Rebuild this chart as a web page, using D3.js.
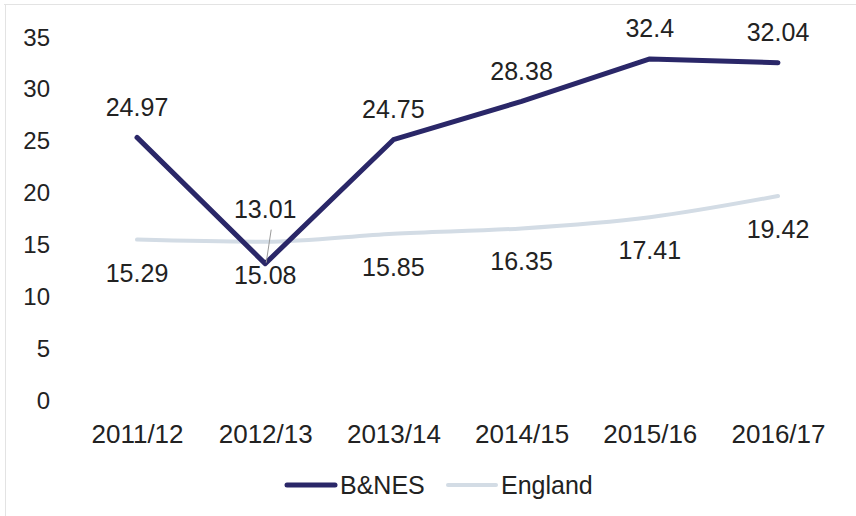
<!DOCTYPE html>
<html><head><meta charset="utf-8">
<script src="https://cdn.jsdelivr.net/npm/d3@7"></script>
<style>
html,body{margin:0;padding:0;background:#fff;}
svg{display:block;font-family:"Liberation Sans",Arial,Helvetica,sans-serif;}
</style></head>
<body>
<svg id="chart" width="856" height="516"></svg>
<script>
const categories = ["2011/12","2012/13","2013/14","2014/15","2015/16","2016/17"];
const bnes = [24.97, 13.01, 24.75, 28.38, 32.4, 32.04];
const england = [15.29, 15.08, 15.85, 16.35, 17.41, 19.42];
const yTicks = [0,5,10,15,20,25,30,35];
const seriesNames = ["B&NES","England"];

const svg = d3.select("#chart");
const bnesColor = "#2a2768", engColor = "#d3dce5", textColor = "#222";
const FONT = "Liberation Sans, Arial, sans-serif";

// frame
svg.append("line").attr("x1",4).attr("x2",856).attr("y1",4.5).attr("y2",4.5).attr("stroke","#e3e3e3");
svg.append("line").attr("x1",5.5).attr("x2",5.5).attr("y1",4).attr("y2",516).attr("stroke","#e3e3e3");

const x = d3.scalePoint().domain(categories).range([137,778]);
const y = d3.scaleLinear().domain([0,35]).range([401,31.5]);
const yLab = d3.scaleLinear().domain([0,35]).range([408,45]);

// y axis labels
const yAxis = svg.append("g").attr("transform","translate(50,0)")
  .call(d3.axisLeft(yLab).tickValues(yTicks).tickSize(0).tickPadding(0));
yAxis.select(".domain").remove();
yAxis.selectAll("text").attr("font-size",24).attr("fill",textColor)
  .attr("font-family",FONT).attr("dy",0);

// x axis
const xAxis = svg.append("g").attr("transform","translate(0,443)")
  .call(d3.axisBottom(x).tickSize(0).tickPadding(0));
xAxis.select(".domain").remove();
xAxis.selectAll("text").attr("font-size",26).attr("fill",textColor)
  .attr("font-family",FONT).attr("y",0).attr("dy",0);

// lines
const engLine = d3.line().x((d,i)=>x(categories[i])).y(d=>y(d)).curve(d3.curveMonotoneX);
svg.append("path").datum(england).attr("d",engLine).attr("fill","none")
  .attr("stroke",engColor).attr("stroke-width",4).attr("stroke-linecap","round");

const bLine = d3.line().x((d,i)=>x(categories[i])).y(d=>y(d));
svg.append("path").datum(bnes).attr("d",bLine).attr("fill","none")
  .attr("stroke",bnesColor).attr("stroke-width",5).attr("stroke-linecap","round").attr("stroke-linejoin","round");

// labels
const lblFont = 25;
svg.append("g").selectAll("text").data(england).join("text")
  .attr("x",(d,i)=>x(categories[i]))
  .attr("y",(d,i)=>y(d)+42)
  .attr("text-anchor","middle").attr("font-size",lblFont).attr("fill",textColor)
  .text(d=>d);
const bOff = (i)=> i===1 ? -46 : -21.5;
svg.append("g").selectAll("text").data(bnes).join("text")
  .attr("x",(d,i)=>x(categories[i]))
  .attr("y",(d,i)=>y(d)+bOff(i))
  .attr("text-anchor","middle").attr("font-size",lblFont).attr("fill",textColor)
  .text(d=>d);
// leader line for 2012/13 label
svg.append("line")
  .attr("x1",x(categories[1])+6).attr("y1",y(bnes[1])-34)
  .attr("x2",x(categories[1])+1).attr("y2",y(bnes[1])-1)
  .attr("stroke","#999").attr("stroke-width",1);

// legend
const legend = svg.append("g");
const items = [
  {name:seriesNames[0], color:bnesColor, w:5, x:287},
  {name:seriesNames[1], color:engColor, w:4, x:448}
];
items.forEach(it=>{
  legend.append("line").attr("x1",it.x).attr("x2",it.x+48).attr("y1",485).attr("y2",485)
    .attr("stroke",it.color).attr("stroke-width",it.w).attr("stroke-linecap","round");
  legend.append("text").attr("x",it.x+53).attr("y",494)
    .attr("font-size",25).attr("fill",textColor).text(it.name);
});
</script>
</body></html>
